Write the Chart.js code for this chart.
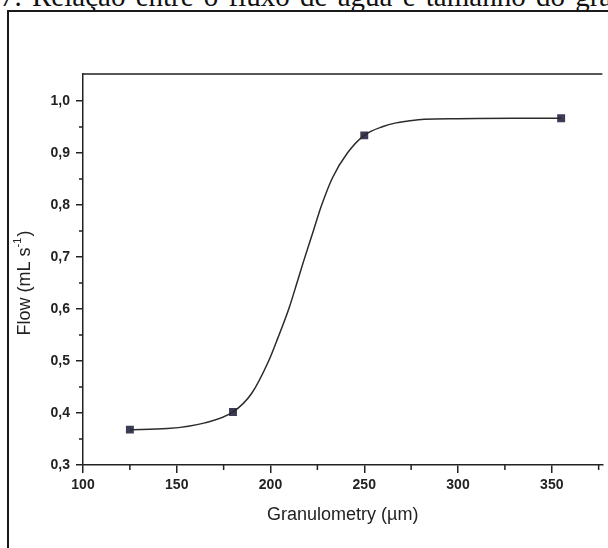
<!DOCTYPE html>
<html lang="pt">
<head>
<meta charset="utf-8">
<title>Fluxo x Granulometria</title>
<script src="https://cdn.jsdelivr.net/npm/chart.js@4/dist/chart.umd.min.js"></script>
<style>
    html, body { margin: 0; padding: 0; background: #fff; overflow: hidden; }
    #pagina { position: relative; width: 608px; height: 548px; overflow: hidden; }
    #legenda-fig {
        position: absolute; left: 0px; top: -18px; white-space: nowrap; word-spacing: 3px;
        font: 29px/29px "Liberation Serif", "DejaVu Serif", serif; color: #111;
    }
    #moldura {
        position: absolute; left: 7px; top: 10px; width: 700px; height: 700px;
        border-left: 2px solid #1a1a1a; border-top: 2px solid #1a1a1a;
    }
    #meuGrafico { position: absolute; left: 0; top: 0; }
</style>
</head>
<body>
<div id="pagina">
    <div id="legenda-fig">7. Relação entre o fluxo de água e tamanho do grão</div>
    <div id="moldura"></div>
    <canvas id="meuGrafico" width="608" height="548"></canvas>
</div>
<script>
// --- DADOS ---
const granulometria = [125, 180, 250, 355];
const fluxo = [0.368, 0.402, 0.934, 0.967];

// curva ajustada, lida ponto a ponto da figura
const curvaX = [125, 145, 165, 180, 190, 199, 204, 210, 214, 218, 223, 227, 233, 241, 250, 260, 267, 274, 282, 300, 330, 355];
const curvaY = [0.368, 0.370, 0.381, 0.402, 0.438, 0.500, 0.545, 0.603, 0.649, 0.696, 0.752, 0.797, 0.852, 0.900, 0.934, 0.951, 0.958, 0.962, 0.965, 0.966, 0.967, 0.967];

const ticksX = [100, 150, 200, 250, 300, 350];
const ticksXmenor = [125, 175, 225, 275, 325, 375];
const ticksY = [0.3, 0.4, 0.5, 0.6, 0.7, 0.8, 0.9, 1.0];
const ticksYmenor = [0.35, 0.45, 0.55, 0.65, 0.75, 0.85, 0.95];

const COR = '#222';
const FONTE = '"Liberation Sans", Arial, sans-serif';

// --- PLUGIN: ticks menores, borda de cima e título do eixo Y ---
const extras = {
    id: 'extras',
    afterDraw(chart) {
        const { ctx, chartArea, scales } = chart;
        ctx.save();
        ctx.strokeStyle = COR;
        ctx.lineWidth = 1.5;
        ctx.beginPath();
        ctx.moveTo(chartArea.left, chartArea.top);
        ctx.lineTo(chartArea.right, chartArea.top);
        ticksXmenor.forEach(v => {
            if (v > scales.x.max) return;
            const px = scales.x.getPixelForValue(v);
            ctx.moveTo(px, chartArea.bottom);
            ctx.lineTo(px, chartArea.bottom + 5);
        });
        ticksYmenor.forEach(v => {
            const py = scales.y.getPixelForValue(v);
            ctx.moveTo(chartArea.left, py);
            ctx.lineTo(chartArea.left - 4, py);
        });
        ctx.stroke();

        // Flow (mL s-1) com sobrescrito
        ctx.translate(25, 283);
        ctx.rotate(-Math.PI / 2);
        ctx.fillStyle = COR;
        ctx.textBaseline = 'middle';
        ctx.textAlign = 'left';
        const fGrande = '18px ' + FONTE;
        const fPeq = '11px ' + FONTE;
        ctx.font = fGrande;
        const w1 = ctx.measureText('Flow (mL s').width;
        const w3 = ctx.measureText(')').width;
        ctx.font = fPeq;
        const w2 = ctx.measureText('-1').width + 1;
        let x = -(w1 + w2 + w3) / 2;
        ctx.font = fGrande;
        ctx.fillText('Flow (mL s', x, 0);
        x += w1;
        ctx.font = fPeq;
        ctx.fillText('-1', x, -7);
        x += w2;
        ctx.font = fGrande;
        ctx.fillText(')', x, 0);
        ctx.restore();
    }
};

// --- GRÁFICO ---
const ctx = document.getElementById('meuGrafico').getContext('2d');
const grafico = new Chart(ctx, {
    type: 'scatter',
    data: {
        datasets: [
            {
                data: curvaX.map((x, i) => ({ x, y: curvaY[i] })),
                showLine: true,
                borderColor: '#2b2b2b',
                borderWidth: 1.5,
                pointRadius: 0,
                cubicInterpolationMode: 'monotone'
            },
            {
                data: granulometria.map((x, i) => ({ x, y: fluxo[i] })),
                showLine: false,
                pointStyle: 'rect',
                pointRadius: 5.6,
                backgroundColor: '#3b3a57',
                borderColor: '#3b3a57',
                borderWidth: 0
            }
        ]
    },
    options: {
        responsive: false,
        animation: false,
        layout: { padding: { left: 0, top: 74, right: 0, bottom: 0 } },
        plugins: { legend: { display: false }, tooltip: { enabled: false } },
        scales: {
            x: {
                type: 'linear',
                min: 100,
                max: 377,
                afterBuildTicks: a => { a.ticks = ticksX.map(v => ({ value: v })); },
                afterFit: a => { a.height = 83; },
                ticks: {
                    color: COR,
                    padding: 4,
                    font: { family: FONTE, size: 14, weight: 'bold' },
                    maxRotation: 0
                },
                grid: { drawOnChartArea: false, tickLength: 8, tickColor: COR, lineWidth: 1.5 },
                border: { color: COR, width: 1.5 },
                title: {
                    display: true,
                    text: 'Granulometry (µm)',
                    color: COR,
                    font: { family: FONTE, size: 18 },
                    padding: { top: 0, bottom: 22 }
                }
            },
            y: {
                type: 'linear',
                min: 0.3,
                max: 1.052,
                afterBuildTicks: a => { a.ticks = ticksY.map(v => ({ value: v })); },
                afterFit: a => { a.width = 83; },
                ticks: {
                    color: COR,
                    padding: 6,
                    font: { family: FONTE, size: 14, weight: 'bold' },
                    callback: v => v.toFixed(1).replace('.', ',')
                },
                grid: { drawOnChartArea: false, tickLength: 7, tickColor: COR, lineWidth: 1.5 },
                border: { color: COR, width: 1.5 }
            }
        }
    },
    plugins: [extras]
});
</script>
</body>
</html>
